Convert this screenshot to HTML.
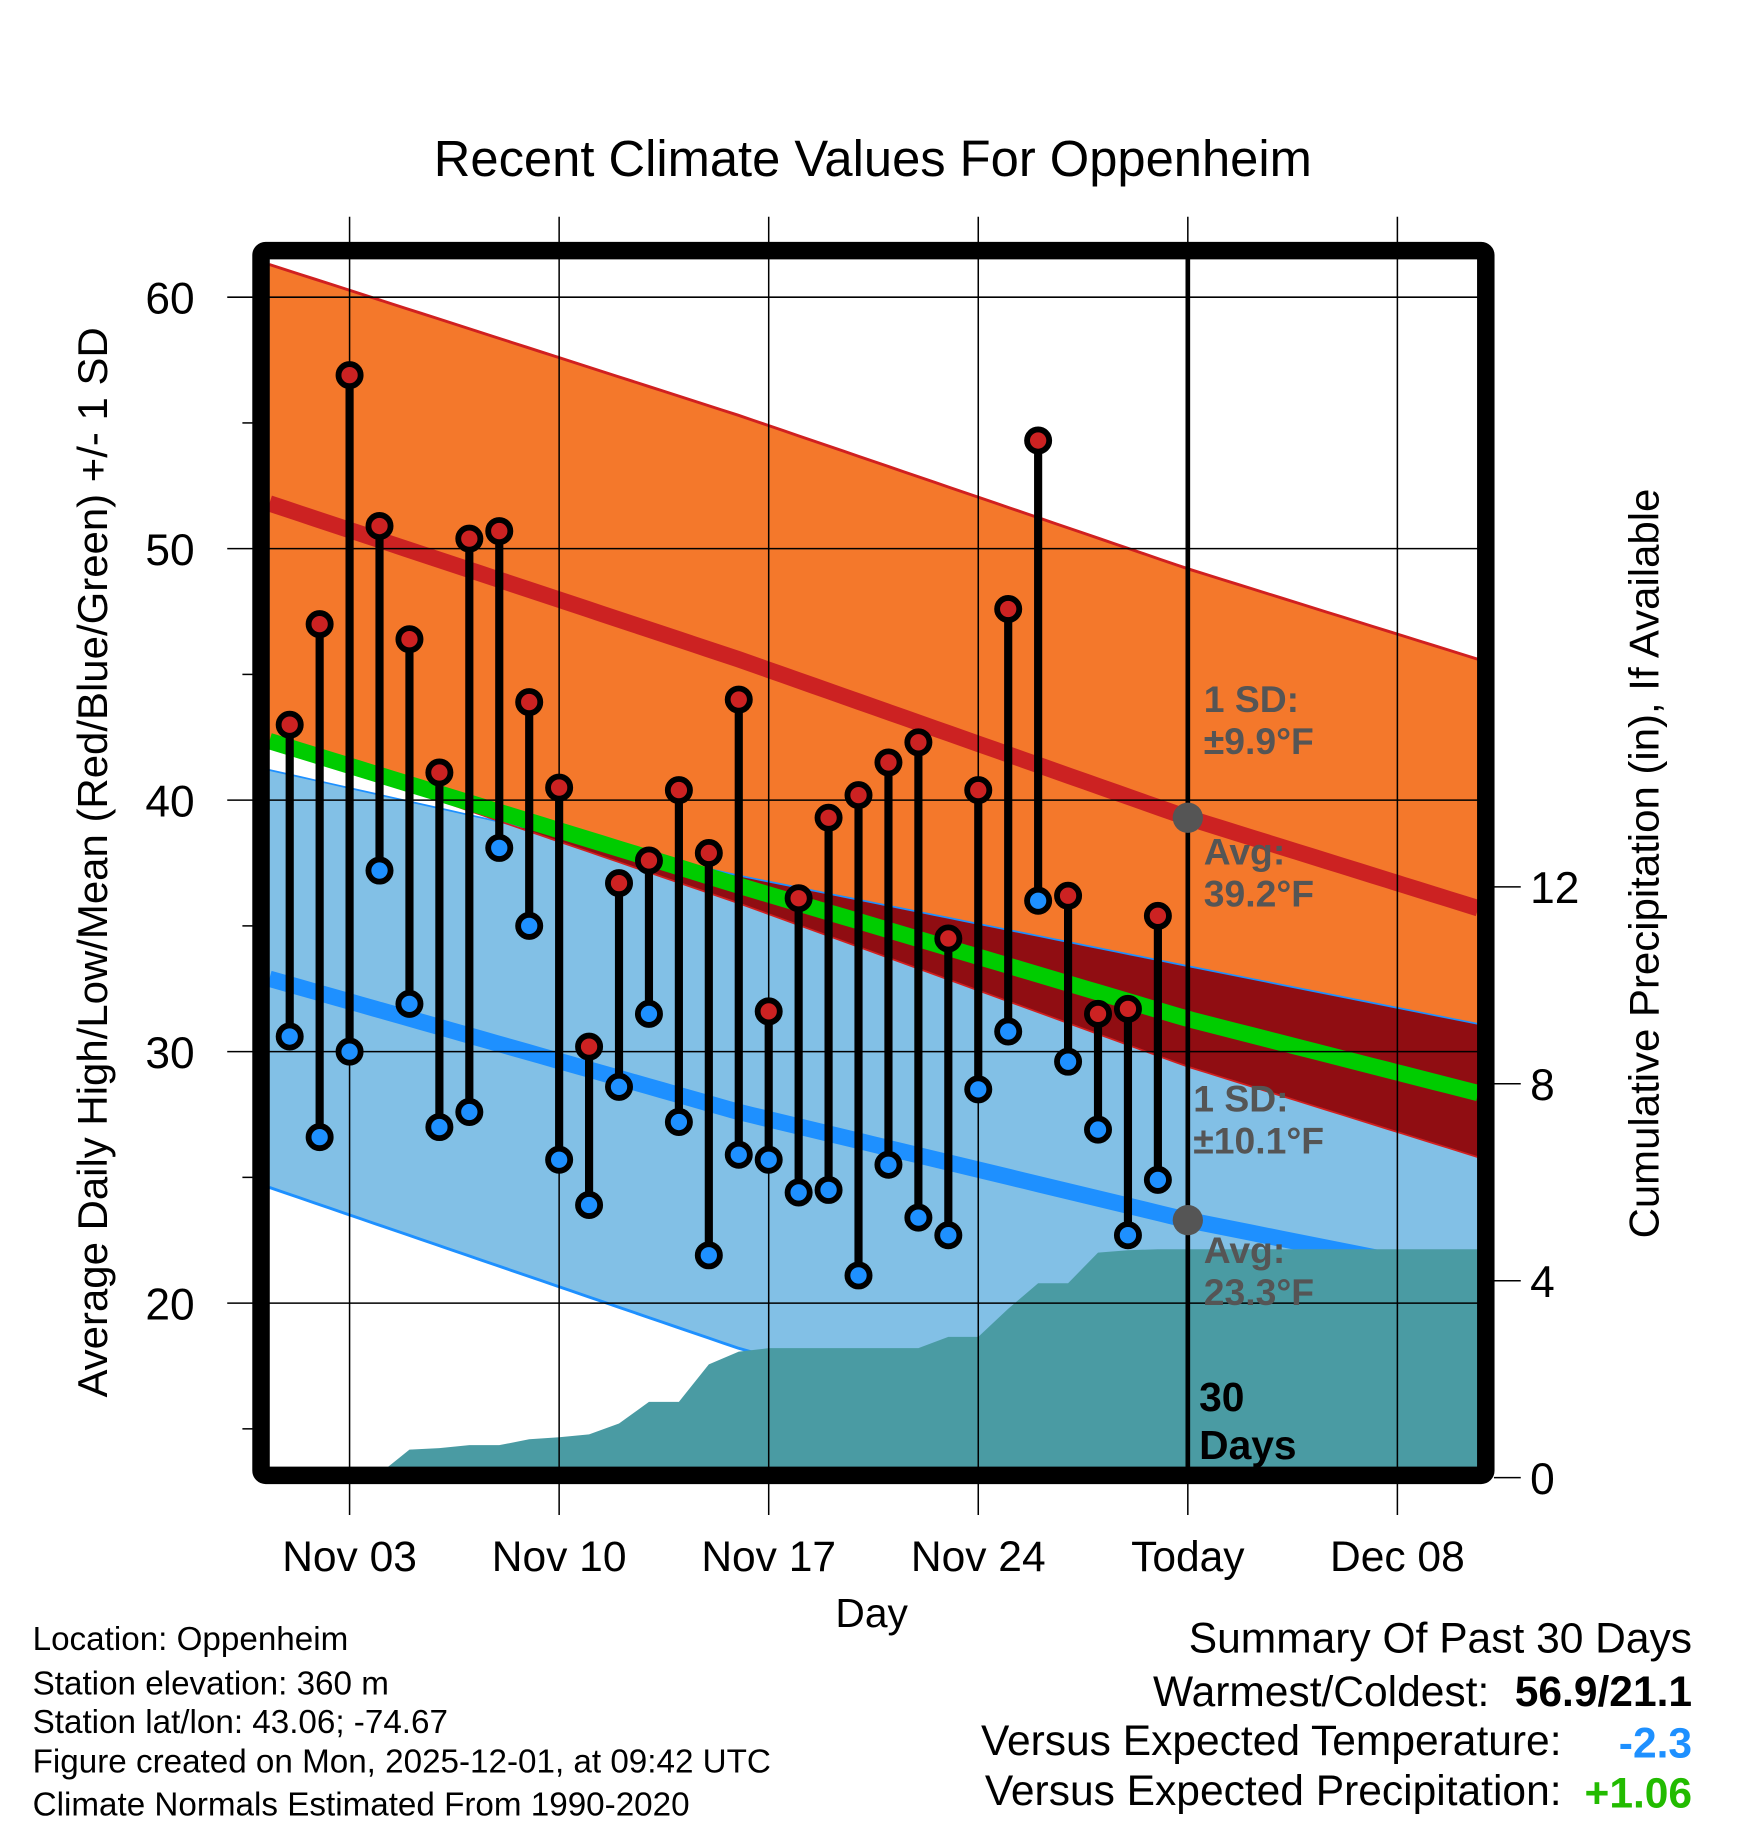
<!DOCTYPE html>
<html><head><meta charset="utf-8"><style>html,body{margin:0;padding:0;background:#fff}svg{display:block;font-family:"Liberation Sans",sans-serif}</style></head>
<body>
<svg id="chart" width="1748" height="1828" viewBox="0 0 1500 1568.6" xmlns="http://www.w3.org/2000/svg">
<text x="749" y="151" font-size="43.5" text-anchor="middle">Recent Climate Values For Oppenheim</text>
<g id="plot"></g>
<text transform="translate(92,740) rotate(-90)" font-size="36" text-anchor="middle">Average Daily High/Low/Mean (Red/Blue/Green) +/- 1 SD</text>
<text transform="translate(1423,741) rotate(-90)" font-size="36" text-anchor="middle">Cumulative Precipitation (in), If Available</text>
<text x="748" y="1396" font-size="35" text-anchor="middle">Day</text>
<g font-size="28.5">
<text x="28" y="1416">Location: Oppenheim</text>
<text x="28" y="1454">Station elevation: 360 m</text>
<text x="28" y="1487">Station lat/lon: 43.06; -74.67</text>
<text x="28" y="1521">Figure created on Mon, 2025-12-01, at 09:42 UTC</text>
<text x="28" y="1558">Climate Normals Estimated From 1990-2020</text>
</g>
<g font-size="36.5">
<text x="1452" y="1418" text-anchor="end">Summary Of Past 30 Days</text>
<text x="1278" y="1464" text-anchor="end">Warmest/Coldest:</text>
<text x="1452" y="1464" text-anchor="end" font-weight="bold">56.9/21.1</text>
<text x="1340" y="1506" text-anchor="end">Versus Expected Temperature:</text>
<text x="1452" y="1508" text-anchor="end" font-weight="bold" fill="#1e90ff">-2.3</text>
<text x="1340" y="1549" text-anchor="end">Versus Expected Precipitation:</text>
<text x="1452" y="1551" text-anchor="end" font-weight="bold" fill="#22bb00">+1.06</text>
</g>
</svg>
<script>
const highs=[43.0,47.0,56.9,50.9,46.4,41.1,50.4,50.7,43.9,40.5,30.2,36.7,37.6,40.4,37.9,44.0,31.6,36.1,39.3,40.2,41.5,42.3,34.5,40.4,47.6,54.3,36.2,31.5,31.7,35.4];
const lows=[30.6,26.6,30.0,37.2,31.9,27.0,27.6,38.1,35.0,25.7,23.9,28.6,31.5,27.2,21.9,25.9,25.7,24.4,24.5,21.1,25.5,23.4,22.7,28.5,30.8,36.0,29.6,26.9,22.7,24.9];
const precipDays=[2,3,4,5,6,7,8,9,10,11,12,13,14,15,16,17,18,19,20,21,22,23,24,25,26,27,28,29,39.7];
const precip=[0,0.08,0.57,0.6,0.66,0.66,0.78,0.82,0.88,1.1,1.54,1.54,2.3,2.56,2.63,2.63,2.63,2.63,2.63,2.63,2.86,2.86,3.43,3.95,3.95,4.57,4.62,4.64,4.64];
const normDays=[-0.68,15,30,39.7];
const normHigh=[51.8,45.6,39.3,35.7];
const normHighSD=[9.5,9.7,9.9,9.9];
const normLow=[32.9,27.6,23.3,21.0];
const normLowSD=[8.3,9.4,10.1,10.1];
const xTickDays=[2,9,16,23,30,37];
const xTickLabels=["Nov 03","Nov 10","Nov 17","Nov 24","Today","Dec 08"];
const yTicks=[20,30,40,50,60];
const y2Ticks=[0,4,8,12];

const L=231,R=1268,T=222,B=1260;
const X=d=>248.6+25.69*d;
const Y=v=>255+(60-v)*21.58;
const Y2=v=>1268-v*42.25;
const NS="http://www.w3.org/2000/svg";
const g=document.getElementById('plot');
function mk(tag,attrs,parent){const e=document.createElementNS(NS,tag);for(const k in attrs)e.setAttribute(k,attrs[k]);(parent||g).appendChild(e);return e;}
const nd=[];for(let i=0;i<=80;i++)nd.push(normDays[0]+(normDays[normDays.length-1]-normDays[0])*i/80);
function interp(arr,d){
 for(let i=0;i<normDays.length-1;i++){
  if(d<=normDays[i+1]||i==normDays.length-2){const t=(d-normDays[i])/(normDays[i+1]-normDays[i]);return arr[i]+(arr[i+1]-arr[i])*t;}
 }
}
const clip=mk('clipPath',{id:'pc'});mk('rect',{x:L,y:T,width:R-L,height:B-T},clip);
const pg=mk('g',{'clip-path':'url(#pc)'});
function inP(tag,attrs){return mk(tag,attrs,pg);}
const hi=d=>interp(normHigh,d), lo=d=>interp(normLow,d), hs=d=>interp(normHighSD,d), ls=d=>interp(normLowSD,d);
function bandP(fn1,fn2,fill,name){let pts=nd.map(d=>X(d)+','+Y(fn1(d))).concat(nd.slice().reverse().map(d=>X(d)+','+Y(fn2(d))));const p=inP('polygon',{points:pts.join(' '),fill:fill});}
function lineP(fn,stroke,w,name){const p=inP('polyline',{points:nd.map(d=>X(d)+','+Y(fn(d))).join(' '),fill:'none',stroke:stroke,'stroke-width':w});}
bandP(d=>hi(d)+hs(d),d=>hi(d)-hs(d),'#f4782b','high-sd-band');
bandP(d=>lo(d)+ls(d),d=>lo(d)-ls(d),'#82c0e6','low-sd-band');
bandP(d=>Math.max(lo(d)+ls(d),hi(d)-hs(d)),d=>hi(d)-hs(d),'#900d12','overlap-band');
lineP(d=>hi(d)+hs(d),'#d02020',2.5,'high-upper-sd-line');
lineP(d=>lo(d)+ls(d),'#1e90ff',1.5,'low-upper-sd-line');
lineP(d=>lo(d)-ls(d),'#1e90ff',2.5,'low-lower-sd-line');
lineP(d=>hi(d)-hs(d),'#d02020',1.5,'high-lower-sd-line');
lineP(d=>(hi(d)+lo(d))/2,'#00cc00',14,'mean-line');
lineP(hi,'#cc2222',14,'avg-high-line');
lineP(lo,'#1e90ff',14,'avg-low-line');
let pp=precipDays.map((d,i)=>Math.min(X(d),R+10)+','+Y2(precip[i]));
pp.push((R+10)+','+(B+10));pp.push(X(precipDays[0])+','+(B+10));
const pa=inP('polygon',{points:pp.join(' '),fill:'#4a9ba3'});


yTicks.forEach(v=>{
 const l=mk('line',{x1:195,x2:1282,y1:Y(v),y2:Y(v),stroke:'#000','stroke-width':1.3});
 
 
 const t=mk('text',{x:167,y:Y(v)+14,'font-size':38,'text-anchor':'end'});t.textContent=v;
 
 
 if(v<60)mk('line',{x1:208,x2:217,y1:Y(v+5),y2:Y(v+5),stroke:'#000','stroke-width':1.3});
});
mk('line',{x1:208,x2:217,y1:Y(15),y2:Y(15),stroke:'#000','stroke-width':1.3});
xTickDays.forEach((d,i)=>{
 const l=mk('line',{x1:X(d),x2:X(d),y1:186,y2:1300,stroke:'#000','stroke-width':1.3});
 
 
 const t=mk('text',{x:X(d),y:1348,'font-size':36.5,'text-anchor':'middle'});t.textContent=xTickLabels[i];
 
 
});
y2Ticks.forEach(v=>{
 mk('line',{x1:1282,x2:1305,y1:Y2(v),y2:Y2(v),stroke:'#000','stroke-width':1.3});
 const t=mk('text',{x:1313,y:Y2(v)+14,'font-size':38});t.textContent=v;
 
 
});
const tl=mk('line',{x1:X(30),x2:X(30),y1:T,y2:B,stroke:'#000','stroke-width':4});


highs.forEach((h,i)=>{
 const s=mk('line',{x1:X(i),x2:X(i),y1:Y(h),y2:Y(lows[i]),stroke:'#000','stroke-width':7});
 
 
 const c1=mk('circle',{cx:X(i),cy:Y(h),r:9.5,fill:'#cc2222',stroke:'#000','stroke-width':5});
 
 
 const c2=mk('circle',{cx:X(i),cy:Y(lows[i]),r:9.5,fill:'#1e90ff',stroke:'#000','stroke-width':5});
 
 
});
[hi(30),lo(30)].forEach(v=>{
 const c=mk('circle',{cx:X(30),cy:Y(v),r:13,fill:'#555'});
 
 
});
const fr=mk('rect',{x:224,y:215,width:1051,height:1051,fill:'none',stroke:'#000','stroke-width':15,rx:4});


const ann=[["1 SD:",1033,611],["\u00b19.9\u00b0F",1033,647],["Avg:",1033,742],["39.2\u00b0F",1033,778],["1 SD:",1024,954],["\u00b110.1\u00b0F",1024,990],["Avg:",1033,1084],["23.3\u00b0F",1033,1120]];
ann.forEach(a=>{const t=mk('text',{x:a[1],y:a[2],'font-size':32,'font-weight':'bold',fill:'#555'});t.textContent=a[0];
 
 });
[["30",1211],["Days",1252]].forEach(a=>{const t=mk('text',{x:1029,y:a[1],'font-size':35,'font-weight':'bold'});t.textContent=a[0];
 
 });
</script>
</body></html>
